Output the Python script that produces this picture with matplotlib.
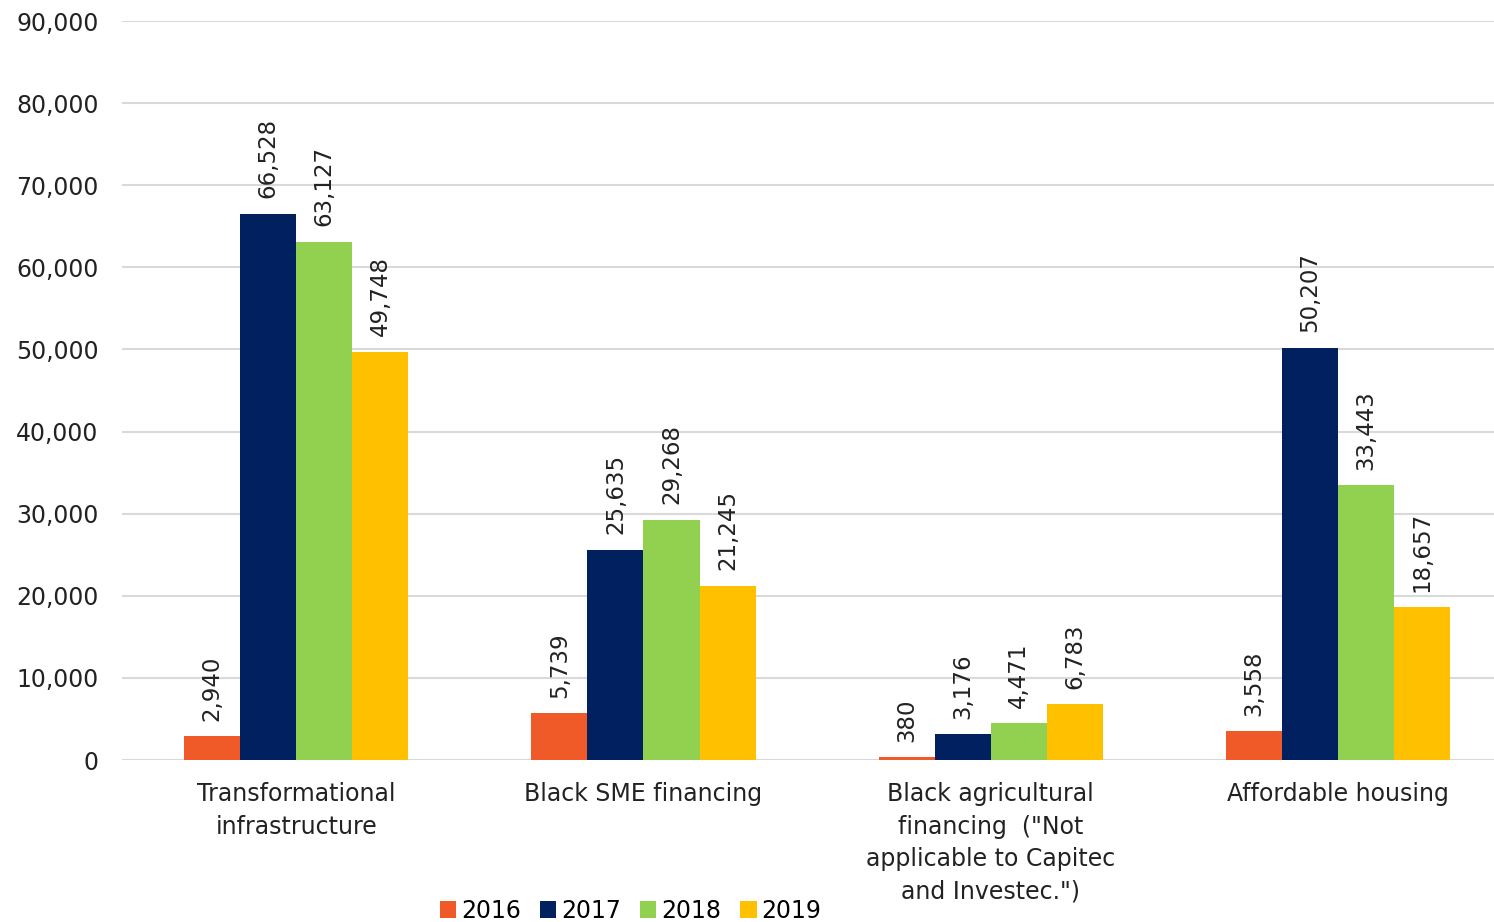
import matplotlib.pyplot as plt
import numpy as np

plt.rcParams['font.family'] = 'DejaVu Sans'

categories = ["Transformational\ninfrastructure", "Black SME financing",
              "Black agricultural\nfinancing  (\"Not\napplicable to Capitec\nand Investec.\")",
              "Affordable housing"]
years = ["2016", "2017", "2018", "2019"]
v2016 = [2940, 5739, 380, 3558]
v2017 = [66528, 25635, 3176, 50207]
v2018 = [63127, 29268, 4471, 33443]
v2019 = [49748, 21245, 6783, 18657]
colors = ["#F05A28", "#002060", "#92D050", "#FFC000"]

fig = plt.figure(figsize=(14.94, 9.22), dpi=100)
ax = fig.add_axes([0.0817, 0.1757, 0.9183, 0.8015])

x = np.arange(len(categories))
w = 0.1615
for i, (vals, c, yr) in enumerate(zip([v2016, v2017, v2018, v2019], colors, years)):
    pos = x + (i - 1.5) * w
    bars = ax.bar(pos, vals, w, color=c, label=yr, zorder=3)
    for b, v in zip(bars, vals):
        ax.annotate(f"{v:,}", (b.get_x() + b.get_width() / 2, v),
                    xytext=(0, 11), textcoords="offset points",
                    rotation=90, ha="center", va="bottom", fontsize=16.5, color="#222222")

ax.set_ylim(0, 90000)
ax.set_xlim(-0.502, 3.45)
ax.set_yticks(np.arange(0, 90001, 10000))
ax.yaxis.set_major_formatter(plt.FuncFormatter(lambda v, p: f"{int(v):,}"))
ax.grid(axis="y", color="#d9d9d9", linewidth=1.5, zorder=0)
ax.set_xticks(x)
ax.set_xticklabels(categories, fontsize=17, color="#222222", linespacing=1.45)
ax.tick_params(axis="y", labelsize=17, colors="#222222", length=0, pad=17)
ax.tick_params(axis="x", length=0, pad=16)
for s in ax.spines.values():
    s.set_visible(False)

ax.legend(loc="lower center", bbox_to_anchor=(0.422, -0.011), bbox_transform=fig.transFigure,
          ncol=4, frameon=False, fontsize=17, handlelength=0.7, handleheight=0.7,
          handletextpad=0.2, columnspacing=0.8, borderaxespad=0)

fig.savefig("out.png", dpi=100)
